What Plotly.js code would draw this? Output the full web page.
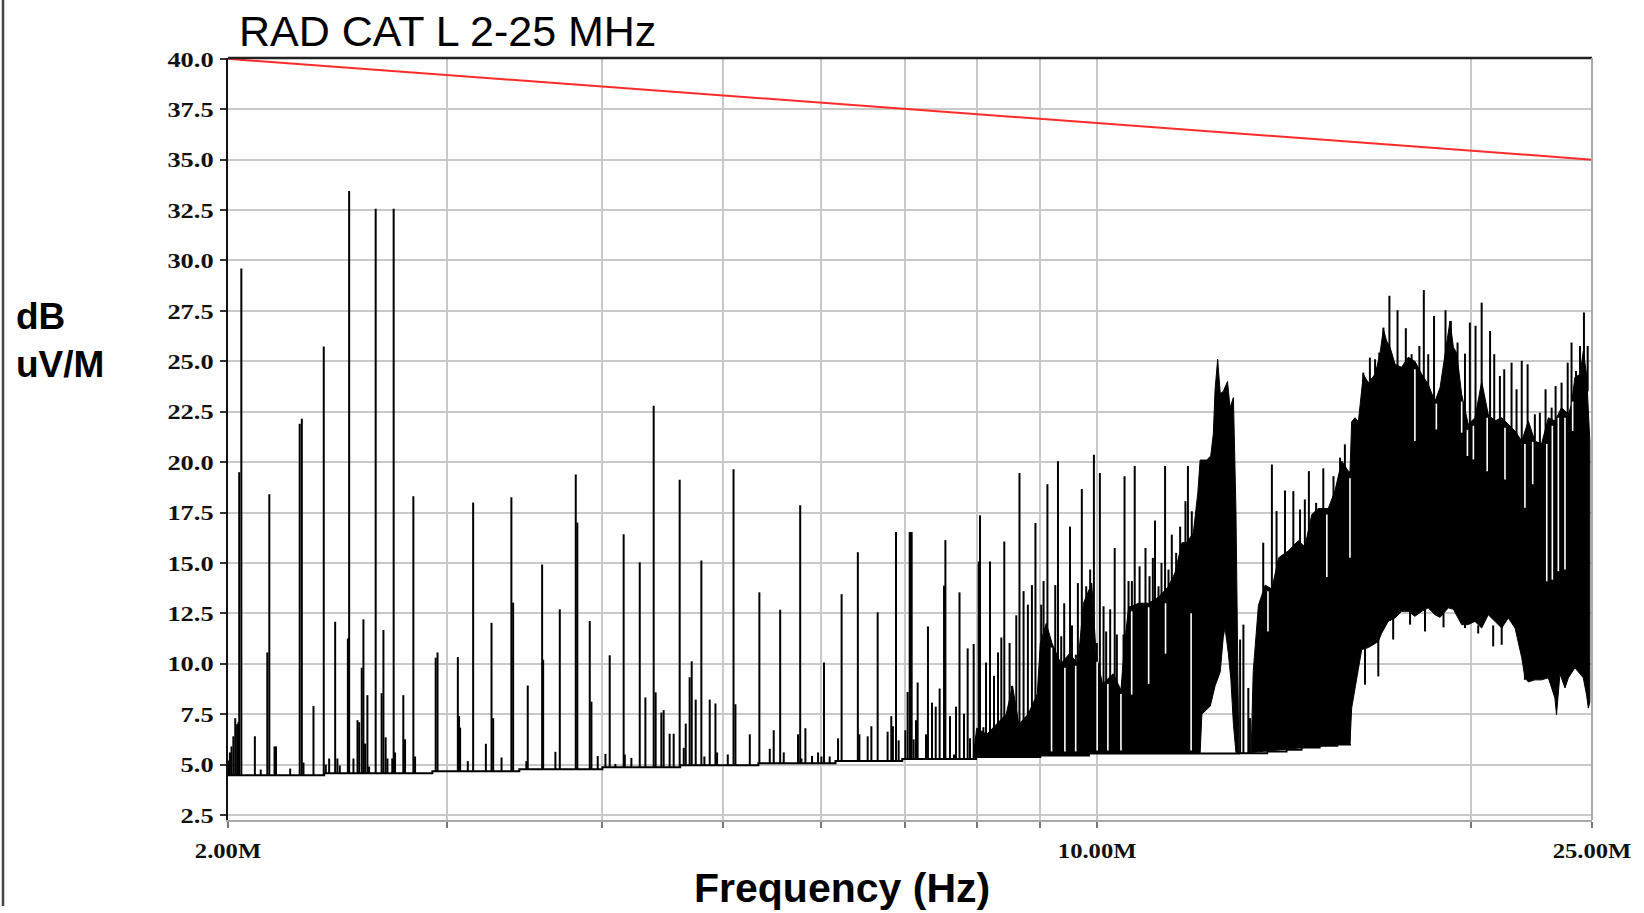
<!DOCTYPE html>
<html><head><meta charset="utf-8">
<script src="https://cdn.plot.ly/plotly-3.0.1.min.js"></script>
<style>html,body{margin:0;padding:0;background:#fff;} #chart{width:1644px;height:913px;}</style>
</head><body><div id="chart"></div>
<script>
// ---------------- DATA (frequency in MHz, level in dB uV/M) ----------------
const limitF = [2, 25];
const limitV = [40, 35];

const xTickVals = [2, 3, 4, 5, 6, 7, 8, 9, 10, 20, 25];
const xTickText = ['2.00M', '', '', '', '', '', '', '', '10.00M', '', '25.00M'];

// noise floor (step start frequency, level)
const floorF = [2.00, 2.39, 2.92, 3.43, 4.00, 4.62, 5.34, 6.16, 6.97, 7.99, 9.00, 9.85, 13.0, 13.7, 14.2, 14.6, 15.1, 15.6, 15.97];
const floorV = [4.47, 4.57, 4.67, 4.77, 4.87, 4.97, 5.07, 5.17, 5.27, 5.37, 5.45, 5.55, 5.56, 5.65, 5.73, 5.85, 5.93, 6.00, 6.05];

// isolated emission spikes (peak levels)
const spikeF = [2.002,2.007,2.013,2.020,2.027,2.034,2.039,2.042,2.050,2.102,2.125,2.151,2.159,2.180,2.186,2.244,2.284,2.293,2.300,2.343,
 2.388,2.397,2.412,2.439,2.449,2.460,2.497,2.503,2.523,2.542,2.550,2.562,2.570,2.578,2.589,2.597,2.629,2.658,2.667,2.678,
 2.687,2.711,2.718,2.725,2.767,2.776,2.819,2.828,2.938,2.948,
 3.061,3.068,3.074,3.118,3.149,3.224,3.258,3.268,3.319,3.380,3.391,3.475,3.484,3.578,3.585,3.667,3.697,3.808,3.819,3.908,
 3.920,3.966,4.023,4.055,4.098,4.161,4.170,4.221,4.287,4.332,4.399,4.415,4.462,4.481,4.531,4.565,4.616,4.651,4.668,4.702,
 4.720,4.755,4.805,4.832,4.880,4.932,4.947,
 5.046,5.100,5.118,5.256,5.350,5.454,5.494,5.560,5.597,5.747,5.770,5.783,5.826,5.898,5.964,6.001,6.030,6.094,6.189,6.230,
 6.420,6.438,6.538,6.583,6.660,6.784,6.830,6.851,6.890,6.924,7.010,7.040,7.067,7.080,7.093,7.119,7.150,7.172,7.284,7.310,
 7.365,7.416,7.470,7.531,7.550,7.615,7.671,7.700,7.750,7.815,7.868,7.902,7.956,8.000,8.030,8.050,8.100,8.140,8.200,8.261,
 8.323,8.374,8.420,
 8.503,8.539,8.609,8.660,8.726,8.796,8.862,8.920,9.016,9.055,9.120,9.195,9.253,9.300,9.356,9.408,9.510,9.544,9.613,9.649,
 9.720,9.799,9.871,9.940,9.994,10.050,10.119,10.168,10.244,10.330,10.371,10.500,10.520,10.598,10.664,10.720,10.817,10.936,11.018,11.086,
 11.130,11.203,11.265,11.340,11.412,11.482,11.575,11.661,11.776,11.830,11.915,11.989,
 13.03,13.11,13.23,13.27];
const spikeV = [5.2,5.6,5.9,6.4,7.3,7.0,7.1,19.5,29.6,6.4,4.75,10.56,18.4,5.9,5.9,4.8,21.9,22.15,5.1,7.9,
 25.73,5.0,5.3,12.08,5.3,4.95,11.25,33.44,5.3,7.2,7.1,9.8,12.2,6.04,8.44,4.9,32.56,8.54,11.67,6.35,
 5.3,5.3,32.56,5.6,8.44,6.25,18.31,5.4,10.3,10.56,
 10.33,7.4,6.83,5.17,18.0,6.03,12.03,7.3,5.35,18.25,13.03,5.17,8.92,14.92,10.2,5.63,12.7,19.38,17.0,12.12,
 8.12,5.42,5.53,10.42,5.03,16.42,5.5,5.33,15.03,8.33,22.8,8.58,7.58,7.7,6.53,6.53,19.12,5.83,7.03,9.33,
 10.12,8.22,15.12,5.4,8.22,8.03,5.6,
 5.5,19.65,7.99,6.5,13.54,5.78,6.7,12.68,5.6,6.5,17.86,5.3,6.8,5.43,5.6,5.4,10.06,5.4,6.3,13.45,
 15.53,6.5,6.4,6.9,12.55,6.63,7.4,6.9,16.53,6.2,6.7,8.6,16.53,16.53,16.53,6.25,7.2,9.07,6.5,11.85,
 8.07,7.87,8.77,13.87,16.13,7.4,5.5,7.87,13.54,7.52,10.76,6.3,10.98,6.4,15.07,17.36,6.85,10.06,15.07,9.4,
 10.56,11.3,16.06,
 11.03,8.9,12.4,19.46,13.6,12.93,13.9,16.98,12.93,14.1,18.9,7.56,13.9,20.04,11.36,13.0,16.8,11.9,10.45,14.0,
 18.67,13.84,14.67,20.37,11.03,19.46,12.85,11.6,12.7,15.74,11.45,11.45,19.3,14.1,14.1,19.8,14.83,15.74,14.34,15.25,
 17.1,13.84,15.0,19.8,14.67,16.4,15.5,16.8,18.06,19.8,17.56,15.2,
 11.2,11.94,8.8,7.3];

// dense band A (8-11.8 MHz): upper / lower envelopes
const bandAUpF = [7.95,8.0,8.15,8.3,8.45,8.55,8.65,8.8,8.95,9.0,9.1,9.2,9.35,9.5,9.65,9.75,9.9,9.98,10.1,10.3,10.45,10.52,10.6,10.8,11.0,11.2,11.4,11.55,11.7,11.8];
const bandAUpV = [5.37,6.8,6.5,7.0,7.5,8.9,7.0,7.5,8.5,11.0,12.0,11.0,10.0,10.5,10.0,13.0,14.0,10.5,9.0,9.5,8.7,11.0,12.8,13.0,13.0,13.3,13.8,14.5,16.0,16.0];
const bandALoF = [7.95,8.99,9.0,9.84,9.85,11.8];
const bandALoV = [5.37,5.37,5.45,5.45,5.55,5.55];

// hump near 12.5 MHz
const humpUpF = [11.8,11.95,12.05,12.10,12.25,12.34,12.40,12.44,12.50,12.56,12.63,12.73,12.79,12.87,12.93,12.97,13.0];
const humpUpV = [16.0,16.5,18.5,20.1,20.1,20.3,21.4,23.6,25.1,23.4,23.5,24.0,22.7,23.2,17.6,10.5,5.55];
const humpLoF = [11.8,12.10,12.14,12.33,12.44,12.56,12.63,12.67,12.75,12.81,12.87,12.93,13.0];
const humpLoV = [5.55,5.55,7.5,7.9,8.9,9.6,11.3,11.8,10.5,9.2,7.0,5.6,5.55];

// dense band 1 (13.3-16 MHz)
const band1UpF = [13.3,13.35,13.48,13.65,13.82,13.99,14.25,14.51,14.69,14.88,15.06,15.34,15.53,15.73,15.92,15.97];
const band1UpV = [5.6,9.6,12.9,13.9,13.7,15.25,15.6,16.1,15.8,17.4,17.7,17.7,18.56,20.05,19.55,19.5];
const band1LoF = [13.3,15.97];
const band1LoV = [5.6,6.05];

// dense band 2 (16-25 MHz)
const band2UpF = [15.97,16.02,16.12,16.22,16.37,16.52,16.73,16.88,16.99,17.09,17.20,17.36,17.57,17.79,18.01,18.24,18.46,18.69,18.87,19.04,
 19.22,19.34,19.46,19.64,19.88,20.13,20.38,20.63,20.89,21.15,21.41,21.68,21.95,22.22,22.49,22.77,23.06,23.34,23.63,23.93,
 24.07,24.22,24.45,24.60,24.75,24.90];
const band2UpV = [19.5,22.0,22.2,22.0,24.35,23.94,24.35,25.35,26.6,26.0,25.7,24.85,24.7,25.2,25.0,24.35,23.86,23.0,23.7,25.2,
 27.0,25.7,25.4,23.36,21.87,22.2,24.0,22.37,22.04,22.2,21.87,21.54,21.04,22.04,21.04,20.9,22.2,22.04,22.7,22.37,
 22.86,24.2,24.35,25.5,24.35,21.04];
const band2LoF = [15.97,16.02,16.17,16.32,16.52,16.83,16.93,17.14,17.36,17.57,17.79,18.01,18.24,18.46,18.69,18.87,19.16,19.34,19.64,19.88,
 20.13,20.38,20.63,20.89,21.15,21.41,21.68,21.81,21.95,22.08,22.22,22.49,22.77,23.06,23.20,23.34,23.41,23.56,23.78,23.93,
 24.22,24.60,24.75,24.83,24.90];
const band2LoV = [6.05,7.8,9.3,10.7,10.8,11.1,11.5,12.1,12.27,12.6,12.6,12.35,12.6,12.77,12.43,12.3,12.77,12.7,11.94,11.94,
 12.1,11.77,12.43,12.1,11.77,12.27,11.77,11.1,10.3,9.3,9.1,9.2,9.2,9.3,8.8,8.3,7.47,9.5,8.8,9.3,
 9.8,9.3,8.45,7.8,8.1];

// whiskers standing out of the dense bands (from, to)
const whiskF = [13.60,13.82,13.94,14.16,14.38,14.56,14.69,14.80,15.00,15.20,15.49,15.68,15.82,
 16.37,16.57,16.73,16.86,16.99,17.18,17.44,17.71,17.90,18.16,18.31,18.46,18.66,19.06,19.25,19.49,19.76,19.94,20.15,20.38,20.70,20.86,
 21.08,21.25,21.54,21.74,21.95,22.19,22.49,22.70,22.94,23.20,23.37,23.63,23.90,24.07,24.27,24.45,24.63,24.80,
 16.42,16.83,17.30,17.85,18.35,18.99,19.76,20.25,20.82,21.15,22.08];
const whiskLo = [13.5,13.5,14.5,15.0,15.5,15.8,15.6,15.8,17.0,17.4,17.7,19.0,19.5,
 23.5,23.5,23.8,24.5,25.5,25.0,24.0,24.5,24.5,24.0,24.0,23.0,22.5,24.5,26.0,24.5,22.0,21.5,21.5,23.0,21.8,21.5,
 21.5,21.5,21.0,21.0,20.5,21.5,20.5,20.5,20.5,21.5,21.5,22.0,22.0,22.0,23.5,23.5,24.5,23.5,
 8.96,9.37,11.2,11.94,11.6,11.8,11.77,11.5,10.86,10.94,9.2];
const whiskHi = [16.0,19.88,17.57,18.59,18.56,17.65,18.15,19.55,17.98,19.69,19.3,20.22,20.88,
 24.44,25.18,25.1,25.43,26.67,28.25,27.53,26.64,25.35,25.76,28.53,25.35,27.25,27.53,27.0,25.93,25.38,26.92,26.76,27.91,26.5,25.35,
 24.27,24.6,24.93,23.61,25.02,24.85,22.37,22.45,23.61,22.7,23.77,23.94,24.93,25.93,24.52,25.76,27.42,25.76,
 11.0,11.3,12.3,12.6,12.7,12.5,12.0,11.9,11.9,11.9,9.5];

// white gaps inside the dense bands (from, to)
const gapF = [9.19,9.42,9.61,10.0,10.2,10.45,11.0,11.35,11.9,
 13.72,15.30,10.66,15.97,18.01,18.74,19.64,19.85,20.07,20.59,21.28,22.08,22.40,22.99,23.23,23.49,23.78,24.12];
const gapLo = [5.65,5.65,5.65,5.7,5.7,5.7,9.0,10.5,5.7,
 11.6,14.3,8.47,15.25,21.04,21.62,21.46,20.3,20.13,19.55,19.14,17.73,18.9,14.09,14.17,14.59,14.67,21.54];
const gapHi = [10.8,9.8,9.9,10.1,9.0,8.5,12.8,13.0,12.5,
 13.6,17.4,12.6,19.2,24.6,22.9,23.0,21.6,21.8,22.2,21.7,20.9,21.0,20.9,21.8,22.2,22.2,23.0];

// ---------------- BUILD ----------------
function floorAt(f){ let v = floorV[0]; for (let i=0;i<floorF.length;i++){ if (f >= floorF[i]) v = floorV[i]; } return v; }
function segs(fs, lo, hi){ const x=[], y=[]; for (let i=0;i<fs.length;i++){ x.push(fs[i],fs[i],null); y.push(lo(i),hi(i),null);} return {x,y}; }
function poly(upF, upV, loF, loV){ return { x: upF.concat(loF.slice().reverse()), y: upV.concat(loV.slice().reverse()) }; }

const traces = [];
[[bandAUpF,bandAUpV,bandALoF,bandALoV],[humpUpF,humpUpV,humpLoF,humpLoV],[band1UpF,band1UpV,band1LoF,band1LoV],[band2UpF,band2UpV,band2LoF,band2LoV]].forEach(b=>{
  const p = poly(b[0],b[1],b[2],b[3]);
  traces.push({type:'scatter', mode:'lines', x:p.x, y:p.y, fill:'toself', fillcolor:'#000', line:{color:'#000', width:1}, hoverinfo:'skip'});
});
// floor (ends where band 2 takes over)
traces.push({type:'scatter', mode:'lines', x: floorF, y: floorV, line:{color:'#000', width:2, shape:'hv'}, hoverinfo:'skip'});
// spikes
const sp = segs(spikeF, i=>floorAt(spikeF[i]), i=>spikeV[i]);
traces.push({type:'scatter', mode:'lines', x: sp.x, y: sp.y, line:{color:'#000', width:2}, hoverinfo:'skip'});
const wk = segs(whiskF, i=>whiskLo[i], i=>whiskHi[i]);
traces.push({type:'scatter', mode:'lines', x: wk.x, y: wk.y, line:{color:'#000', width:2}, hoverinfo:'skip'});
const gp = segs(gapF, i=>gapLo[i], i=>gapHi[i]);
traces.push({type:'scatter', mode:'lines', x: gp.x, y: gp.y, line:{color:'#fff', width:1.6}, hoverinfo:'skip'});
// limit line
traces.push({type:'scatter', mode:'lines', x: limitF, y: limitV, line:{color:'#ff2b2b', width:2}, hoverinfo:'skip'});

const W=1644, H=913, L=228, R=52, T=58, B=93;
const pw=W-L-R, ph=H-T-B;
const px = x => (x-L)/pw;
const py = y => 1-(y-T)/ph;
const tickFont = {family:'Liberation Serif, "Times New Roman", serif', size:22, color:'#111', weight:'bold'};

const layout = {
  width:W, height:H, margin:{l:L, r:R, t:T, b:B, pad:0},
  paper_bgcolor:'#fff', plot_bgcolor:'#fff', showlegend:false,
  title:{text:'RAD CAT L 2-25 MHz', font:{family:'Liberation Sans, Arial, sans-serif', size:43, color:'#000'},
         x:239/W, xanchor:'left', xref:'container', y:1-31/H, yanchor:'middle', yref:'container'},
  xaxis:{type:'log', range:[Math.log10(2), Math.log10(25)], tickmode:'array', tickvals:xTickVals, ticktext:xTickText,
         showgrid:true, gridcolor:'#c9c9c9', gridwidth:2, ticks:'outside', ticklen:6, tickwidth:2, tickcolor:'#777',
         showline:true, linecolor:'#a9a9a9', linewidth:2, tickfont:tickFont, zeroline:false, fixedrange:true, ticklabelstandoff:4},
  yaxis:{range:[2.25, 40.04], tick0:0, dtick:2.5, tickformat:'.1f', showgrid:true, gridcolor:'#c9c9c9', gridwidth:2,
         ticks:'outside', ticklen:6, tickwidth:2, tickcolor:'#333', showline:true, linecolor:'#111', linewidth:2,
         tickfont:tickFont, zeroline:false, fixedrange:true, ticklabelstandoff:2},
  shapes:[
    {type:'line', xref:'paper', yref:'paper', x0:0, x1:1, y0:1, y1:1, line:{color:'#222', width:2.5}},
    {type:'line', xref:'paper', yref:'paper', x0:1, x1:1, y0:0, y1:1, line:{color:'#a9a9a9', width:2}},
    {type:'line', xref:'paper', yref:'paper', x0:px(3), x1:px(3), y0:py(0), y1:py(906), line:{color:'#444', width:2.5}}
  ],
  annotations:[
    {text:'dB<br>uV/M', xref:'paper', yref:'paper', x:px(14), xanchor:'left', y:py(340), yanchor:'middle', align:'left', showarrow:false,
     font:{family:'Liberation Sans, Arial, sans-serif', size:37, color:'#000', weight:'bold'}},
    {text:'Frequency (Hz)', xref:'paper', yref:'paper', x:px(842), xanchor:'center', y:py(888), yanchor:'middle', showarrow:false,
     font:{family:'Liberation Sans, Arial, sans-serif', size:41, color:'#000', weight:'bold'}}
  ]
};

Plotly.newPlot('chart', traces, layout, {staticPlot:true, displayModeBar:false}).then(()=>{
  document.querySelectorAll('.ytick text').forEach(t=>{ const w=t.getComputedTextLength(); t.setAttribute('textLength', (w*1.2).toFixed(1)); t.setAttribute('lengthAdjust','spacingAndGlyphs'); });
  document.querySelectorAll('.xtick text').forEach(t=>{ const w=t.getComputedTextLength(); if (w>0){ t.setAttribute('textLength', (w*1.12).toFixed(1)); t.setAttribute('lengthAdjust','spacingAndGlyphs'); } });
});
</script></body></html>
